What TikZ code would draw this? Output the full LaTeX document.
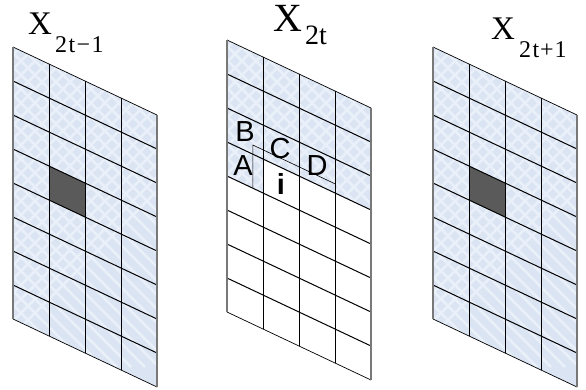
\documentclass[tikz,border=0pt]{standalone}
\usepackage{fontspec}
\setmainfont{Liberation Serif}
\newfontfamily\labelfont{Liberation Sans}
\definecolor{sheetblue}{RGB}{218,228,243}
\definecolor{sheetlight}{RGB}{234,240,249}
\definecolor{sheetdark}{RGB}{90,90,90}
\definecolor{edgegrey}{RGB}{120,120,120}
\tikzset{
  gridline/.style={line width=1pt, black},
  weave/.style={sheetlight, line width=2.5pt},
  sheet/.style={x={(36pt,-17pt)}, y={(0pt,-34pt)}},
  title/.style={anchor=base west, inner sep=0pt, font=\fontsize{33}{33}\selectfont},
  cell/.style={inner sep=0pt, font=\labelfont\fontsize{29}{29}\selectfont}
}
% diamond texture inside the closed path #1
\newcommand{\texture}[1]{%
  \fill[sheetblue] #1;
  \begin{scope}
    \clip #1;
    \foreach \o in {-300,-286,...,300} {
      \draw[weave] (\o pt,0pt) -- ++(320pt,-320pt);
      \draw[weave] (\o pt,0pt) -- ++(-320pt,-320pt);
    }
  \end{scope}
}
\newcommand{\lattice}{%
  \foreach \c in {1,2,3} \draw[gridline] (\c,0) -- (\c,8);
  \foreach \r in {1,...,7} \draw[gridline] (0,\r) -- (4,\r);
  \draw[line width=0.7pt] (0,0) -- (4,0);
  \draw[line width=0.7pt] (0,8) -- (4,8);
  \draw[edgegrey, line width=1.1pt] (0,0) -- (0,8);
  \draw[edgegrey, line width=1.3pt] (4,0) -- (4,8);
}
\newcommand{\marked}{\fill[sheetdark] (1,3) -- (2,3) -- (2,4) -- (1,4) -- cycle;}
\newcommand{\subtext}[1]{\raisebox{-18pt}{\fontsize{24}{24}\selectfont #1}}
\begin{document}
\begin{tikzpicture}
  \useasboundingbox (0pt,0pt) rectangle (586pt,-389pt);
  % previous frame
  \begin{scope}[shift={(13pt,-47pt)}, sheet]
    \texture{(0,0) -- (4,0) -- (4,8) -- (0,8) -- cycle}
    \marked
    \lattice
  \end{scope}
  % current frame
  \begin{scope}[shift={(227pt,-40pt)}, sheet]
    \texture{(0,0) -- (4,0) -- (4,3) -- (1,3) -- (1,4) -- (0,4) -- cycle}
    \lattice
    \coordinate (cornerLow) at (0.72,3.99);
    \coordinate (cornerTop) at (0.72,2.73);
    \coordinate (cornerEnd) at (3,2.73);
    \draw[line width=0.6pt] (cornerLow) -- (cornerTop) -- (cornerEnd);
  \end{scope}
  % next frame
  \begin{scope}[shift={(433pt,-47pt)}, sheet]
    \texture{(0,0) -- (4,0) -- (4,8) -- (0,8) -- cycle}
    \marked
    \lattice
  \end{scope}
  \node[title] (prev) at (28pt,-34pt) {X\kern3pt\subtext{2\kern1.5pt t\kern1.5pt −\kern1.5pt 1}};
  \node[title, font=\fontsize{40}{40}\selectfont] (curr) at (273pt,-31pt) {X\kern3pt\raisebox{-13pt}{\fontsize{28}{28}\selectfont 2t}};
  \node[title] (next) at (491pt,-39pt) {X\kern4pt\subtext{2\kern1.5pt t\kern1pt +\kern1pt 1}};
  \node[cell] (nodeA) at (243pt,-165.5pt) {A};
  \node[cell] (nodeB) at (245pt,-132pt) {B};
  \node[cell] (nodeC) at (280pt,-149pt) {C};
  \node[cell] (nodeD) at (317pt,-166pt) {D};
  \node[cell, font=\labelfont\bfseries\fontsize{29}{29}\selectfont] (nodeI) at (281pt,-184pt) {i};
\end{tikzpicture}
\end{document}
